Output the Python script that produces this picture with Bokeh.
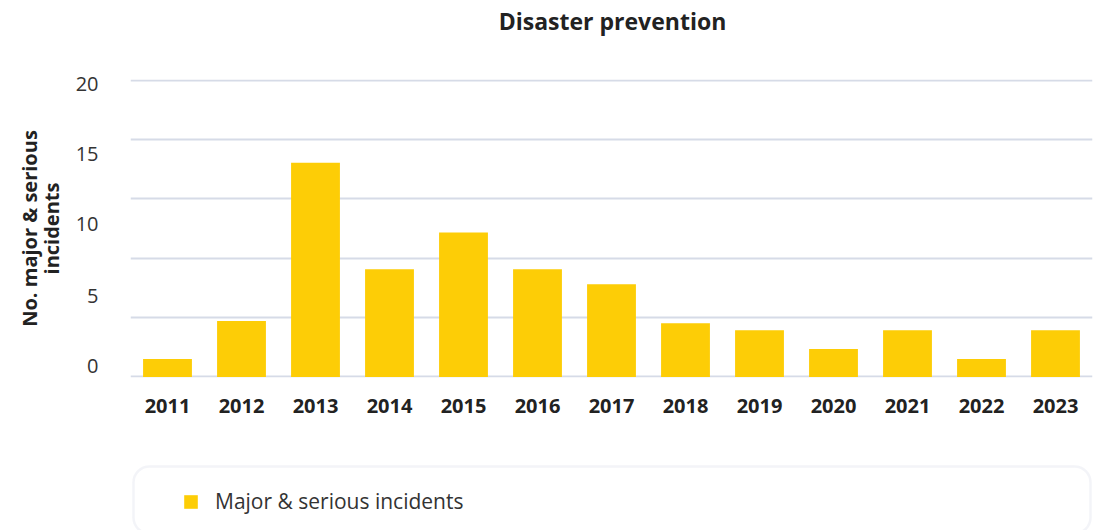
from bokeh.plotting import figure
from bokeh.layouts import column
from bokeh.models import (ColumnDataSource, FixedTicker, Legend, LegendItem,
                          FactorRange, Range1d, BoxAnnotation, Label)
from bokeh.embed import file_html
from bokeh.resources import INLINE

# ---- data ----
years = ["2011", "2012", "2013", "2014", "2015", "2016", "2017",
         "2018", "2019", "2020", "2021", "2022", "2023"]
incidents = [1.21, 3.76, 14.43, 7.25, 9.73, 7.25, 6.24,
             3.62, 3.15, 1.88, 3.15, 1.21, 3.15]
series_name = "Major & serious incidents"
chart_title = "Disaster prevention"
ytick_labels = ["0", "5", "10", "15", "20"]
ytick_values = [0.74, 5.44, 10.27, 15.01, 19.75]
grid_values = [0, 4, 8, 12, 16, 20]

FONT = "Open Sans"
BAR = "#FDCD06"
GRID = "#D6DBE7"

src = ColumnDataSource(dict(year=years, value=incidents))

def strip(h):
    f = figure(width=1100, height=h, x_range=FactorRange(*years),
               y_range=Range1d(100, 101), output_backend="svg",
               toolbar_location=None, x_axis_location=None,
               y_axis_location=None, min_border_left=0, min_border_right=0,
               min_border_top=0, min_border_bottom=0, outline_line_color=None)
    f.grid.visible = False
    return f

# ---------------- title strip ----------------
p0 = strip(40)
p0.add_layout(Label(x=482, y=20, x_units="screen", y_units="screen",
                    text=chart_title, text_align="center",
                    text_baseline="middle", text_font=FONT,
                    text_font_size="23px", text_font_style="bold",
                    text_color="#222222"))

# ---------------- main chart ----------------
p = figure(width=1100, height=400, x_range=FactorRange(*years, range_padding=0),
           y_range=Range1d(-0.04, 20.04), output_backend="svg",
           toolbar_location=None,
           min_border_left=130, min_border_right=8, min_border_top=39,
           min_border_bottom=63, outline_line_color=None)

r = p.vbar(x="year", top="value", width=0.66, source=src, fill_color=BAR,
           line_color=None)

p.xgrid.grid_line_color = None
p.ygrid.ticker = FixedTicker(ticks=grid_values)
p.ygrid.grid_line_color = GRID
p.ygrid.grid_line_width = 2

p.yaxis.ticker = FixedTicker(ticks=ytick_values)
p.yaxis.major_label_overrides = {v: t for v, t in zip(ytick_values, ytick_labels)}
p.yaxis.axis_line_color = None
p.yaxis.major_tick_line_color = None
p.yaxis.minor_tick_line_color = None
p.yaxis.major_tick_out = 0
p.yaxis.major_tick_in = 0
p.yaxis.major_label_text_font = FONT
p.yaxis.major_label_text_font_size = "20px"
p.yaxis.major_label_text_color = "#333333"
p.yaxis.major_label_standoff = 32
p.yaxis.axis_label = "No. major & serious\nincidents"
p.yaxis.axis_label_text_font = FONT
p.yaxis.axis_label_text_font_size = "20px"
p.yaxis.axis_label_text_font_style = "bold"
p.yaxis.axis_label_text_color = "#222222"
p.yaxis.axis_label_text_line_height = 0.8
p.yaxis.axis_label_standoff = 8

p.xaxis.axis_line_color = None
p.xaxis.major_tick_line_color = None
p.xaxis.minor_tick_line_color = None
p.xaxis.major_tick_out = 0
p.xaxis.major_tick_in = 0
p.xaxis.major_label_text_font = FONT
p.xaxis.major_label_text_font_size = "20px"
p.xaxis.major_label_text_font_style = "bold"
p.xaxis.major_label_text_color = "#222222"
p.xaxis.major_label_standoff = 21

# ---------------- legend strip ----------------
p2 = strip(90)
r2 = p2.vbar(x="year", top="value", width=0.66, source=src, fill_color=BAR,
             line_color=None)

box = BoxAnnotation(left=3, right=960, top=64, bottom=-3,
                    left_units="screen", right_units="screen",
                    top_units="screen", bottom_units="screen",
                    fill_color="white", fill_alpha=1.0,
                    line_color=GRID, line_width=2.5, border_radius=16)
p2.add_layout(box)

legend = Legend(items=[LegendItem(label=series_name, renderers=[r2])],
                location=(52, 15), orientation="horizontal",
                border_line_color=None, background_fill_alpha=0,
                padding=0, margin=0, glyph_width=17, glyph_height=17,
                label_height=17, label_standoff=16,
                label_text_font=FONT, label_text_font_size="21px",
                label_text_color="#333333")
p2.add_layout(legend, "center")

open("out.html", "w").write(file_html(column(p0, p, p2, spacing=0), INLINE))
